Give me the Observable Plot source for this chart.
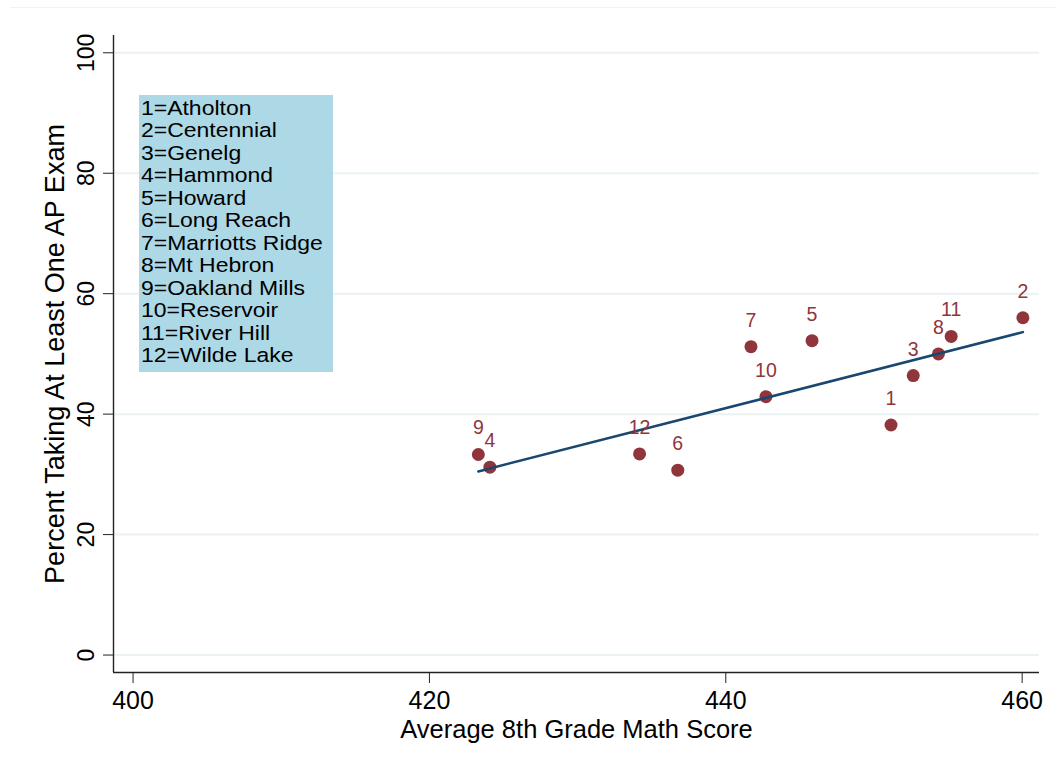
<!DOCTYPE html>
<html><head><meta charset="utf-8">
<script src="https://cdn.jsdelivr.net/npm/d3@7"></script>
<script src="https://cdn.jsdelivr.net/npm/@observablehq/plot@0.6"></script>
<style>
body{margin:0;background:#fff;}
#wrap{position:relative;width:1056px;height:773px;font-family:"Liberation Sans",Arial,sans-serif;overflow:hidden;}
#topline{position:absolute;left:10px;right:0;top:7px;height:0;border-top:1.5px solid #eef3f4;}
#legend{position:absolute;left:139px;top:95px;width:194px;height:277px;background:#add8e6;box-sizing:border-box;padding-top:2px;padding-left:1.5px;}
#legend div{font-size:20.5px;line-height:22.45px;white-space:nowrap;transform:scaleX(1.12);transform-origin:left center;color:#000;}
svg{position:absolute;left:0;top:0;}
</style></head><body><div id="wrap"><div id="topline"></div></div>
<script>
// ---- data ----
const ids = [1, 2, 3, 4, 5, 6, 7, 8, 9, 10, 11, 12];
const schools = ["Atholton", "Centennial", "Genelg", "Hammond", "Howard", "Long Reach",
  "Marriotts Ridge", "Mt Hebron", "Oakland Mills", "Reservoir", "River Hill", "Wilde Lake"];
const mathScore = [451.15, 460.05, 452.65, 424.08, 445.82, 436.76, 441.70, 454.35, 423.30, 442.71, 455.21, 434.18];
const pctAP = [38.2, 56.0, 46.4, 31.2, 52.2, 30.7, 51.2, 50.0, 33.3, 42.9, 52.9, 33.4];
const xTicks = [400, 420, 440, 460];
const yTicks = [0, 20, 40, 60, 80, 100];
const xTitle = "Average 8th Grade Math Score";
const yTitle = "Percent Taking At Least One AP Exam";
const xDomain = [398.68, 461.17];
const yDomain = [-2.9, 102.87];

const maroon = "#90353b";
const navy = "#1a476f";

const data = ids.map((id, i) => ({id, school: schools[i], x: mathScore[i], y: pctAP[i]}));

const plot = Plot.plot({
  width: 1056, height: 773,
  marginLeft: 113, marginRight: 17, marginTop: 35, marginBottom: 101,
  style: {fontFamily: '"Liberation Sans", Arial, sans-serif', color: "#000", background: "transparent", overflow: "visible"},
  x: {domain: xDomain},
  y: {domain: yDomain},
  marks: [
    Plot.gridY(yTicks, {stroke: "#eaf2f3", strokeOpacity: 1, strokeWidth: 2}),
    Plot.ruleX([xDomain[0]], {stroke: "#222", strokeWidth: 1.4}),
    Plot.ruleY([yDomain[0]], {stroke: "#222", strokeWidth: 1.4}),
    Plot.axisX(xTicks, {tickSize: 11, tickPadding: 8, fontSize: 25, label: null, stroke: "#222"}),
    Plot.axisY(yTicks, {tickSize: 10, tickPadding: 10, tickRotate: -90, fontSize: 23, label: null, stroke: "#222"}),
    Plot.text([xTitle], {text: d => d, frameAnchor: "bottom", dy: 65.5, lineAnchor: "bottom", textAnchor: "middle", fontSize: 25.5, fill: "#000"}),
    Plot.text([yTitle], {text: d => d, frameAnchor: "left", dx: -50, rotate: -90, lineAnchor: "bottom", textAnchor: "middle", fontSize: 27, fill: "#000"}),
    Plot.dot(data, {x: "x", y: "y", r: 6.5, fill: maroon, stroke: null}),
    Plot.linearRegressionY(data, {x: "x", y: "y", stroke: navy, strokeWidth: 2.5, ci: 0}),
    Plot.text(data, {x: "x", y: "y", text: d => String(d.id), dy: -20, lineAnchor: "bottom", textAnchor: "middle", fill: maroon, fontSize: 19.5})
  ]
});

const wrap = document.getElementById("wrap");
wrap.appendChild(plot);

const legend = document.createElement("div");
legend.id = "legend";
ids.forEach((id, i) => {
  const line = document.createElement("div");
  line.textContent = `${id}=${schools[i]}`;
  legend.appendChild(line);
});
wrap.appendChild(legend);
</script>
</body></html>
